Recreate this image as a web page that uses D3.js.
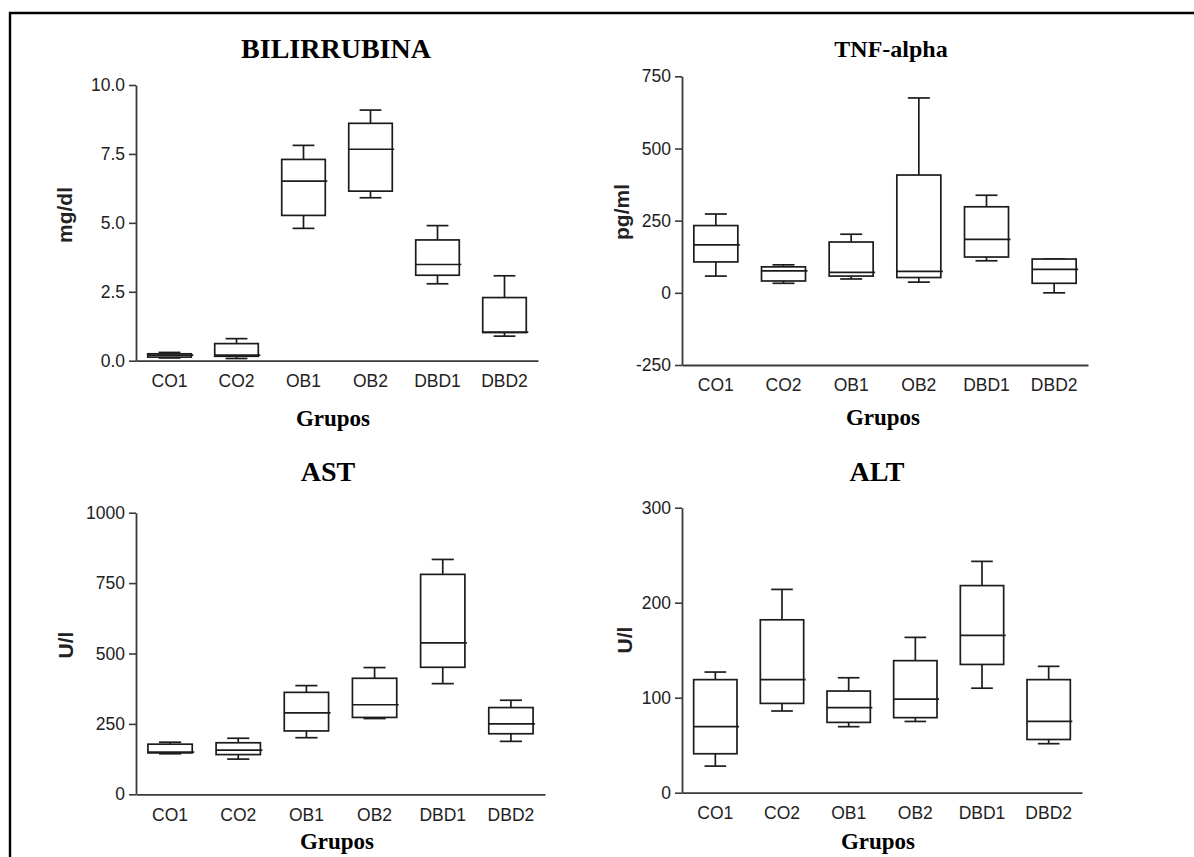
<!DOCTYPE html>
<html>
<head>
<meta charset="utf-8">
<script src="https://cdn.jsdelivr.net/npm/d3@7"></script>
<style>
  html, body { margin: 0; padding: 0; background: #fff; }
  svg { display: block; }
</style>
</head>
<body>
<svg id="fig" width="1194" height="857"></svg>
<script>
// Experimental groups shown on every panel
const groups = ["CO1", "CO2", "OB1", "OB2", "DBD1", "DBD2"];

// Five-number summaries per group: [min, Q1, median, Q3, max]
const bilirrubina = [
  [0.10, 0.13, 0.20, 0.25, 0.30],
  [0.08, 0.16, 0.20, 0.62, 0.80],
  [4.80, 5.27, 6.51, 7.30, 7.81],
  [5.91, 6.15, 7.67, 8.61, 9.09],
  [2.79, 3.10, 3.49, 4.38, 4.90],
  [0.89, 1.02, 1.04, 2.29, 3.08]
];
const tnfAlpha = [
  [58, 107, 166, 233, 273],
  [33, 41, 76, 90, 97],
  [48, 58, 71, 176, 203],
  [37, 53, 74, 408, 675],
  [111, 124, 185, 298, 338],
  [0, 33, 81, 117, 117]
];
const ast = [
  [144, 147, 150, 178, 185],
  [125, 141, 157, 183, 199],
  [201, 225, 289, 362, 386],
  [269, 273, 318, 412, 450],
  [393, 451, 538, 781, 834],
  [188, 215, 250, 308, 334]
];
const alt = [
  [28, 41, 69.5, 119, 127],
  [86, 94, 119, 182, 214],
  [69.5, 74, 89.5, 107, 121],
  [75, 79, 98.6, 139, 163.5],
  [110, 135, 165.6, 218, 243.5],
  [51.6, 56, 75, 119, 133]
];

// Y-axis ticks and their printed labels
const bilTicks = [0, 2.5, 5, 7.5, 10];
const bilTickLabels = ["0.0", "2.5", "5.0", "7.5", "10.0"];
const tnfTicks = [-250, 0, 250, 500, 750];
const tnfTickLabels = ["-250", "0", "250", "500", "750"];
const astTicks = [0, 250, 500, 750, 1000];
const astTickLabels = ["0", "250", "500", "750", "1000"];
const altTicks = [0, 100, 200, 300];
const altTickLabels = ["0", "100", "200", "300"];

const svg = d3.select("#fig");
const sansFont = "'Liberation Sans', Arial, Helvetica, sans-serif";
const serifFont = "'Liberation Serif', 'Times New Roman', Times, serif";

// Outer frame (runs off the right and bottom edges)
svg.append("path")
  .attr("d", "M10,1200 L10,13 L1300,13")
  .attr("fill", "none")
  .attr("stroke", "#000")
  .attr("stroke-width", 2.4);

const panels = [
  { title: "BILIRRUBINA", titleSize: 28, unit: "mg/dl", data: bilirrubina, ticks: bilTicks, labels: bilTickLabels,
    left: 136, right: 538, top: 85, bottom: 360.7, titleX: 336, titleY: 58, unitX: 72, unitY: 215, xTitleX: 333, xTitleY: 426 },
  { title: "TNF-alpha", titleSize: 24, unit: "pg/ml", data: tnfAlpha, ticks: tnfTicks, labels: tnfTickLabels,
    left: 682, right: 1088, top: 76.3, bottom: 365, titleX: 891, titleY: 57, unitX: 629, unitY: 212, xTitleX: 883, xTitleY: 425 },
  { title: "AST", titleSize: 28, unit: "U/l", data: ast, ticks: astTicks, labels: astTickLabels,
    left: 136, right: 545, top: 512.7, bottom: 794.3, titleX: 328, titleY: 481, unitX: 73, unitY: 645, xTitleX: 337, xTitleY: 849 },
  { title: "ALT", titleSize: 28, unit: "U/l", data: alt, ticks: altTicks, labels: altTickLabels,
    left: 682, right: 1082, top: 507.7, bottom: 792.7, titleX: 877, titleY: 481, unitX: 632, unitY: 640, xTitleX: 878, xTitleY: 849 }
];

panels.forEach(p => {
  const g = svg.append("g");
  const x = d3.scaleBand().domain(groups).range([p.left, p.right]).padding(0);
  const y = d3.scaleLinear()
    .domain([p.ticks[0], p.ticks[p.ticks.length - 1]])
    .range([p.bottom, p.top]);

  // Y axis
  const yAxis = d3.axisLeft(y)
    .tickValues(p.ticks)
    .tickFormat((d, i) => p.labels[i])
    .tickSize(7)
    .tickPadding(4)
    .tickSizeOuter(0);
  const ya = g.append("g").attr("transform", `translate(${p.left},0)`).call(yAxis);
  ya.select(".domain").attr("stroke", "#3a3a3a").attr("stroke-width", 1.8);
  ya.selectAll(".tick line").attr("stroke", "#3a3a3a").attr("stroke-width", 1.6);
  ya.selectAll(".tick text")
    .attr("fill", "#222")
    .style("font-family", sansFont)
    .style("font-size", "17.5px");

  // X axis (no tick marks)
  const xAxis = d3.axisBottom(x).tickSize(0).tickPadding(14).tickSizeOuter(0);
  const xa = g.append("g").attr("transform", `translate(0,${p.bottom})`).call(xAxis);
  xa.select(".domain").attr("stroke", "#3a3a3a").attr("stroke-width", 1.8);
  xa.selectAll(".tick text")
    .attr("fill", "#222")
    .style("font-family", sansFont)
    .style("font-size", "17.5px");

  // Box-and-whisker marks
  const bw = x.bandwidth();
  const boxW = bw * 0.65;
  const capW = boxW * 0.5;
  const boxes = g.selectAll(".box").data(p.data).enter().append("g")
    .attr("class", "box")
    .attr("fill", "none")
    .attr("stroke", "#1c1c1c")
    .attr("stroke-width", 1.7);

  boxes.each(function (d, i) {
    const cx = x(groups[i]) + bw / 2;
    const b = d3.select(this);
    const [mn, q1, med, q3, mx] = d;
    // whiskers
    b.append("line").attr("x1", cx).attr("x2", cx).attr("y1", y(q3)).attr("y2", y(mx));
    b.append("line").attr("x1", cx).attr("x2", cx).attr("y1", y(q1)).attr("y2", y(mn));
    b.append("line").attr("x1", cx - capW / 2).attr("x2", cx + capW / 2).attr("y1", y(mx)).attr("y2", y(mx));
    b.append("line").attr("x1", cx - capW / 2).attr("x2", cx + capW / 2).attr("y1", y(mn)).attr("y2", y(mn));
    // box
    b.append("rect")
      .attr("x", cx - boxW / 2)
      .attr("width", boxW)
      .attr("y", y(q3))
      .attr("height", Math.max(0, y(q1) - y(q3)))
      .attr("fill", "#fff");
    // median
    b.append("line").attr("x1", cx - boxW / 2).attr("x2", cx + boxW / 2 + 2)
      .attr("y1", y(med)).attr("y2", y(med));
  });

  // Titles
  g.append("text")
    .attr("x", p.titleX).attr("y", p.titleY)
    .attr("text-anchor", "middle")
    .style("font-family", serifFont)
    .style("font-weight", "bold")
    .style("font-size", p.titleSize + "px")
    .attr("fill", "#000")
    .text(p.title);

  g.append("text")
    .attr("x", p.xTitleX).attr("y", p.xTitleY)
    .attr("text-anchor", "middle")
    .style("font-family", serifFont)
    .style("font-weight", "bold")
    .style("font-size", "23px")
    .attr("fill", "#000")
    .text("Grupos");

  g.append("text")
    .attr("transform", `translate(${p.unitX},${p.unitY}) rotate(-90)`)
    .attr("text-anchor", "middle")
    .style("font-family", sansFont)
    .style("font-weight", "bold")
    .style("font-size", "21px")
    .attr("fill", "#222")
    .text(p.unit);
});
</script>
</body>
</html>
